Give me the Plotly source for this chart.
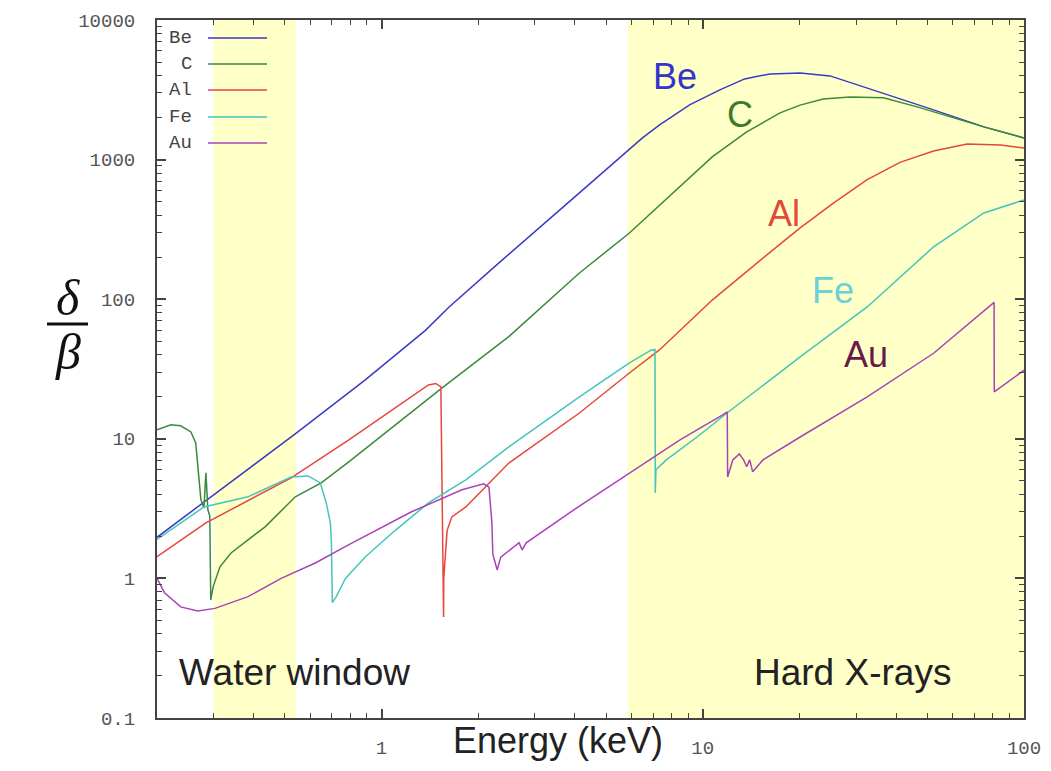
import plotly.graph_objects as go

# ---------------- data ----------------
be_E = [0.2, 0.54, 0.89, 1.37, 1.62, 2.32, 4.13, 5.91, 6.49, 7.34, 9.1, 11.3, 13.5, 16.2, 20.1, 24.9, 32.5, 41.1,
        52.3, 75, 100]
be_v = [1.97, 10.9, 26.4, 59.8, 87.6, 182, 578, 1173, 1430, 1773, 2466, 3158, 3785, 4111, 4180, 3977, 3263, 2723,
        2270, 1715, 1430]

c_E = [0.2, 0.221, 0.237, 0.255, 0.264, 0.268, 0.274, 0.280, 0.284, 0.288, 0.292, 0.294, 0.299, 0.314, 0.34,
       0.384, 0.434, 0.539, 0.649, 0.789, 1.54, 2.49, 4.13, 5.91, 8.47, 10.7, 13.7, 17.4, 20.1, 23.7, 28.7, 36.5,
       46.5, 59.3, 75, 100]
c_v = [11.6, 12.6, 12.4, 11.2, 9.35, 6.3, 3.65, 3.2, 5.7, 3.1, 2.8, 0.70, 0.87, 1.21, 1.52,
       1.89, 2.34, 3.84, 4.83, 6.8, 23.1, 53.9, 154, 298, 637, 1045, 1578, 2160, 2455, 2715, 2810, 2770,
       2385, 2017, 1715, 1430]

al_E = [0.2, 0.284, 0.523, 0.789, 1.40, 1.475, 1.53, 1.56, 1.562, 1.6, 1.655, 1.83, 2.11, 2.49, 4.13, 5.91, 7.33,
        10.7, 15.8, 20.1, 25.5, 32.5, 41.1, 52.3, 66.5, 84.4, 100]
al_v = [1.43, 2.5, 5.25, 9.8, 24.3, 24.9, 23.5, 0.53, 1.0, 2.2, 2.76, 3.25, 4.52, 6.7, 15.3, 29.6, 43.3,
        98.6, 207, 324, 488, 718, 956, 1153, 1292, 1273, 1213]

fe_E = [0.2, 0.28, 0.384, 0.523, 0.591, 0.645, 0.673, 0.693, 0.698, 0.703, 0.723, 0.772, 0.891, 1.106, 1.40,
        1.83, 2.49, 4.13, 5.91, 6.92, 7.10, 7.115, 7.15, 7.7, 9.6, 11.9, 20.1, 32.5, 52.3, 75, 100]
fe_v = [1.9, 3.25, 3.84, 5.33, 5.42, 4.83, 3.47, 2.5, 1.8, 0.67, 0.74, 1.0, 1.43, 2.22, 3.47,
        5.08, 8.75, 20, 35, 43.3, 43.5, 4.1, 6.0, 7.06, 10.3, 15.3, 38.6, 88, 237, 415, 514]

au_E = [0.2, 0.211, 0.237, 0.268, 0.303, 0.384, 0.487, 0.622, 0.789, 1.24, 1.78, 2.08, 2.16, 2.206, 2.22, 2.29,
        2.35, 2.68, 2.74, 2.82, 4.13, 5.91, 8.47, 11.5, 11.92, 11.95, 12.4, 13.0, 13.4, 13.7, 14.0, 14.3, 15.4,
        20.1, 32.5, 52.3, 80.7, 80.8, 100]
au_v = [1.0, 0.79, 0.625, 0.585, 0.61, 0.74, 1.0, 1.29, 1.74, 3.0, 4.31, 4.76, 4.5, 2.5, 1.5, 1.15,
        1.42, 1.8, 1.6, 1.8, 3.3, 5.68, 9.8, 14.8, 15.6, 5.33, 7.06, 7.8, 7.06, 6.3, 7.06, 5.8, 7.06,
        10.3, 20, 41, 95, 21.7, 31]

series_names = ["Be", "C", "Al", "Fe", "Au"]
series_E = [be_E, c_E, al_E, fe_E, au_E]
series_v = [be_v, c_v, al_v, fe_v, au_v]

water_window = [0.30, 0.54]   # keV
hard_xrays = [5.84, 100]      # keV

x_tickvals = [1, 10, 100]
x_ticktext = ["1", "10", "100"]
y_tickvals = [0.1, 1, 10, 100, 1000, 10000]
y_ticktext = ["0.1", "1", "10", "100", "1000", "10000"]

# ---------------- style ----------------
line_colors = ["#3a3ac4", "#3b8a3b", "#e8453c", "#45c4be", "#a844b8"]
label_colors = ["#3434cc", "#3a7a2a", "#e04a3a", "#6cd0d8", "#6a1a4a"]
band_color = "#FFFFC8"

OFF = 8                       # default page margin of the html body
W, H = 1051 - 2 * OFF, 771 - 2 * OFF
L, R, T, B = 157, 1024, 20, 718   # plot area in screen pixels


def px(x):
    return (x - L) / (R - L)


def py(y):
    return (B - y) / (B - T)


fig = go.Figure()
for name, E, v, col in zip(series_names, series_E, series_v, line_colors):
    fig.add_trace(go.Scatter(x=E, y=v, mode="lines", name=name,
                             line=dict(color=col, width=1.5), showlegend=False))

# shaded regions
for x0, x1 in (water_window, hard_xrays):
    fig.add_shape(type="rect", xref="x", yref="paper", x0=x0, x1=x1, y0=0, y1=1,
                  fillcolor=band_color, line=dict(width=0), layer="below")

minor_x = [m * d for d in (0.1, 1, 10) for m in range(2, 10) if m * d > 0.2]
minor_y = [m * d for d in (0.1, 1, 10, 100, 1000) for m in range(2, 10)]

axis_common = dict(type="log", showgrid=False, zeroline=False, showline=True, automargin=False,
                   linecolor="#444", linewidth=2, mirror="ticks", ticks="inside",
                   ticklen=9, tickwidth=1.5, tickcolor="#444",
                   tickfont=dict(family="Liberation Mono", size=19, color="#555"))

fig.update_xaxes(range=[-0.69897, 2], tickmode="array", tickvals=x_tickvals, ticktext=x_ticktext,
                 ticklabelstandoff=11,
                 minor=dict(tickmode="array", tickvals=minor_x, ticks="inside", ticklen=5,
                            tickcolor="#444", tickwidth=1),
                 **axis_common)
fig.update_yaxes(range=[-1, 4], tickmode="array", tickvals=y_tickvals, ticktext=y_ticktext,
                 ticklabelstandoff=16,
                 minor=dict(tickmode="array", tickvals=minor_y, ticks="inside", ticklen=5,
                            tickcolor="#444", tickwidth=1),
                 **axis_common)


def note(text, x, y, size, color, family="Liberation Sans", xanchor="center"):
    return dict(text=text, x=px(x), y=py(y), xref="paper", yref="paper", showarrow=False,
                xanchor=xanchor, yanchor="middle", font=dict(family=family, size=size, color=color))


ann = []
label_pos = [(675, 77), (740, 115), (784, 213), (833, 290), (866, 354)]
for name, (x, y), col in zip(series_names, label_pos, label_colors):
    ann.append(note(name, x, y, 36, col))
ann.append(note("Water window", 294, 672, 37, "#222"))
ann.append(note("Hard X-rays", 852, 672, 37, "#222"))
ann.append(note("Energy (keV)", 558, 740, 36, "#222"))
ann.append(note("<i>δ</i>", 68, 298, 50, "#111", family="Liberation Serif"))
ann.append(note("<i>β</i>", 68, 352, 50, "#111", family="Liberation Serif"))
fig.add_shape(type="line", xref="paper", yref="paper", x0=px(47), x1=px(88), y0=py(324), y1=py(324),
              line=dict(color="#111", width=3))

# manual legend (text on the left, line sample on the right)
leg_y = [38, 64, 90, 117, 143]
for name, y, col in zip(series_names, leg_y, line_colors):
    ann.append(note(name, 194, y, 19, "#444", family="Liberation Mono", xanchor="right"))
    fig.add_shape(type="line", xref="paper", yref="paper", x0=px(208), x1=px(267), y0=py(y), y1=py(y),
                  line=dict(color=col, width=1.5))

fig.update_layout(width=W, height=H, autosize=False,
                  margin=dict(l=L - OFF, r=W - (R - OFF), t=T - OFF, b=H - (B - OFF), pad=0, autoexpand=False),
                  paper_bgcolor="white", plot_bgcolor="white", annotations=ann, showlegend=False)

fig.write_html("out.html")
